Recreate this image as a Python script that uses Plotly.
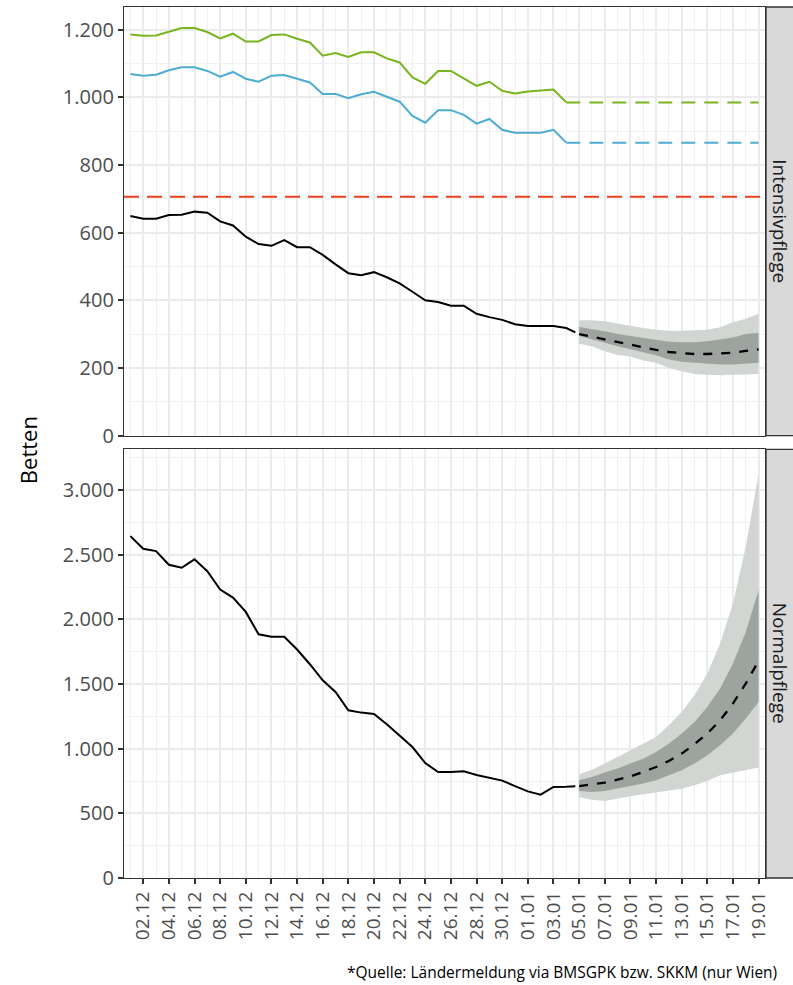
import plotly.graph_objects as go
import pandas as pd

# ---------------- data ----------------
obs_dates = list(pd.date_range("2021-12-01", "2022-01-04", freq="D").strftime("%Y-%m-%d"))
obs_last_date = "2022-01-04 17:00"          # last reported point of the observed lines
fc_dates = list(pd.date_range("2022-01-05", "2022-01-19", freq="D").strftime("%Y-%m-%d"))
cap_fc_dates = ["2022-01-04", "2022-01-19"]

# Intensivpflege (ICU)
icu_obs = [649, 641, 641, 652, 653, 662, 659, 633, 621, 588, 566, 561, 578, 557, 557, 534, 506,
           480, 474, 483, 468, 450, 425, 400, 395, 384, 384, 360, 350, 342, 329, 324, 324, 324, 318]
icu_obs_last = 305
icu_cap_total = [1186, 1182, 1183, 1194, 1205, 1205, 1193, 1174, 1188, 1165, 1165, 1184, 1186, 1173,
                 1162, 1123, 1131, 1119, 1133, 1133, 1115, 1103, 1059, 1040, 1078, 1078, 1057, 1034,
                 1046, 1019, 1011, 1017, 1020, 1023, 985]
icu_cap_covid = [1069, 1064, 1067, 1080, 1089, 1089, 1078, 1061, 1075, 1055, 1046, 1064, 1066, 1055,
                 1044, 1010, 1010, 997, 1009, 1016, 1001, 987, 945, 925, 962, 962, 948, 922, 936,
                 904, 895, 895, 895, 904, 866]
icu_threshold = 706
icu_fc_median = [300, 292, 284, 275, 268, 260, 253, 247, 243, 241, 241, 242, 245, 250, 255]
icu_fc_in_lo = [294, 284, 274, 264, 254, 246, 237, 225, 218, 215, 212, 210, 210, 212, 215]
icu_fc_in_hi = [321, 315, 308, 300, 294, 287, 281, 277, 276, 276, 279, 284, 290, 300, 304]
icu_fc_out_lo = [271, 264, 249, 238, 234, 222, 215, 200, 190, 182, 180, 178, 178, 180, 182]
icu_fc_out_hi = [341, 341, 338, 331, 323, 318, 313, 310, 310, 311, 313, 320, 335, 345, 360]

# Normalpflege (general ward)
nw_obs = [2644, 2546, 2528, 2422, 2399, 2464, 2373, 2231, 2169, 2058, 1885, 1865, 1865, 1767, 1653,
          1529, 1439, 1297, 1279, 1269, 1189, 1101, 1013, 889, 820, 820, 825, 797, 773, 753, 711,
          670, 645, 704, 706]
nw_obs_last = 709
nw_fc_median = [711, 722, 738, 761, 786, 820, 858, 905, 962, 1034, 1117, 1220, 1349, 1504, 1680]
nw_fc_in_lo = [673, 665, 673, 691, 709, 730, 755, 794, 833, 885, 949, 1026, 1117, 1233, 1361]
nw_fc_in_hi = [755, 781, 815, 846, 885, 923, 975, 1039, 1117, 1207, 1323, 1465, 1659, 1903, 2226]
nw_fc_out_lo = [626, 606, 595, 614, 632, 647, 665, 678, 691, 717, 750, 794, 812, 833, 854]
nw_fc_out_hi = [800, 838, 885, 936, 988, 1034, 1091, 1181, 1284, 1413, 1581, 1813, 2123, 2561, 3129]

x_tick_dates = list(pd.date_range("2021-12-02", "2022-01-19", freq="2D").strftime("%Y-%m-%d"))
x_tick_labels = ["02.12", "04.12", "06.12", "08.12", "10.12", "12.12", "14.12", "16.12", "18.12",
                 "20.12", "22.12", "24.12", "26.12", "28.12", "30.12", "01.01", "03.01", "05.01",
                 "07.01", "09.01", "11.01", "13.01", "15.01", "17.01", "19.01"]
x_minor_dates = list(pd.date_range("2021-12-01", "2022-01-18", freq="2D").strftime("%Y-%m-%d"))
x_range = ["2021-11-30 12:00", "2022-01-19 12:00"]

icu_ticks = [0, 200, 400, 600, 800, 1000, 1200]
icu_tick_labels = ["0", "200", "400", "600", "800", "1.000", "1.200"]
icu_minor = [100, 300, 500, 700, 900, 1100]
icu_range = [0, 1267]
nw_ticks = [0, 500, 1000, 1500, 2000, 2500, 3000]
nw_tick_labels = ["0", "500", "1.000", "1.500", "2.000", "2.500", "3.000"]
nw_minor = [250, 750, 1250, 1750, 2250, 2750, 3250]
nw_range = [0, 3314]

panel_names = ["Intensivpflege", "Normalpflege"]
y_title = "Betten"
caption = "*Quelle: Ländermeldung via BMSGPK bzw. SKKM (nur Wien)"

# ---------------- style ----------------
FONT = "Open Sans"
GREEN = "#78B41E"
BLUE = "#4EACD2"
RED = "#E8401F"
BAND_OUT = "#D1D6D3"
BAND_IN = "#9DA39F"
GRID = "#EBEBEB"
GRID_MINOR = "#F1F1F1"
AXIS = "#333333"
TICKTXT = "#4D4D4D"

fig = go.Figure()


def add_forecast(xa, ya, lo_o, hi_o, lo_i, hi_i, med):
    fig.add_trace(go.Scatter(x=fc_dates + fc_dates[::-1], y=hi_o + lo_o[::-1], fill="toself",
                             fillcolor=BAND_OUT, line=dict(width=0), mode="lines",
                             xaxis=xa, yaxis=ya, hoverinfo="skip", showlegend=False))
    fig.add_trace(go.Scatter(x=fc_dates + fc_dates[::-1], y=hi_i + lo_i[::-1], fill="toself",
                             fillcolor=BAND_IN, line=dict(width=0), mode="lines",
                             xaxis=xa, yaxis=ya, hoverinfo="skip", showlegend=False))
    fig.add_trace(go.Scatter(x=fc_dates, y=med, mode="lines",
                             line=dict(color="black", width=2.3, dash="9px,9px"),
                             xaxis=xa, yaxis=ya, showlegend=False))


# top panel
fig.add_trace(go.Scatter(x=obs_dates, y=icu_cap_total, mode="lines",
                         line=dict(color=GREEN, width=2), xaxis="x", yaxis="y", showlegend=False))
fig.add_trace(go.Scatter(x=cap_fc_dates, y=[icu_cap_total[-1]] * 2, mode="lines",
                         line=dict(color=GREEN, width=2, dash="14px,9px"),
                         xaxis="x", yaxis="y", showlegend=False))
fig.add_trace(go.Scatter(x=obs_dates, y=icu_cap_covid, mode="lines",
                         line=dict(color=BLUE, width=2), xaxis="x", yaxis="y", showlegend=False))
fig.add_trace(go.Scatter(x=cap_fc_dates, y=[icu_cap_covid[-1]] * 2, mode="lines",
                         line=dict(color=BLUE, width=2, dash="14px,9px"),
                         xaxis="x", yaxis="y", showlegend=False))
add_forecast("x", "y", icu_fc_out_lo, icu_fc_out_hi, icu_fc_in_lo, icu_fc_in_hi, icu_fc_median)
fig.add_trace(go.Scatter(x=obs_dates + [obs_last_date], y=icu_obs + [icu_obs_last], mode="lines",
                         line=dict(color="black", width=2), xaxis="x", yaxis="y", showlegend=False))

# bottom panel
add_forecast("x2", "y2", nw_fc_out_lo, nw_fc_out_hi, nw_fc_in_lo, nw_fc_in_hi, nw_fc_median)
fig.add_trace(go.Scatter(x=obs_dates + [obs_last_date], y=nw_obs + [nw_obs_last], mode="lines",
                         line=dict(color="black", width=2), xaxis="x2", yaxis="y2", showlegend=False))

# threshold line
fig.add_shape(type="line", xref="x domain", yref="y", x0=0, x1=1, y0=icu_threshold, y1=icu_threshold,
              line=dict(color=RED, width=2.2, dash="15px,8px"), layer="above")

top_dom = [0.508, 1.0]
bot_dom = [0.0, 0.492]

xcommon = dict(type="date", range=x_range, tickmode="array", tickvals=x_tick_dates,
               ticktext=x_tick_labels, showgrid=True, gridcolor=GRID, gridwidth=1.6,
               minor=dict(tickmode="array", tickvals=x_minor_dates, showgrid=True,
                          gridcolor=GRID_MINOR, gridwidth=1.0),
               showline=True, mirror=True, linecolor=AXIS, linewidth=1.3, zeroline=False)
ycommon = dict(tickmode="array", showgrid=True, gridcolor=GRID, gridwidth=1.6,
               showline=True, mirror=True, linecolor=AXIS, linewidth=1.3, zeroline=False,
               ticks="outside", ticklen=5, tickwidth=1.5, tickcolor=AXIS,
               tickfont=dict(family=FONT, size=20, color=TICKTXT))

fig.update_layout(
    width=793, height=985,
    margin=dict(l=124, r=28, t=7, b=107),
    plot_bgcolor="white", paper_bgcolor="white",
    font=dict(family=FONT),
    showlegend=False,
    xaxis=dict(**xcommon, anchor="y", showticklabels=False, ticks=""),
    xaxis2=dict(**xcommon, anchor="y2", matches="x", showticklabels=True, ticks="outside",
                ticklen=5, tickwidth=1.5, tickcolor=AXIS, tickangle=-90,
                tickfont=dict(family=FONT, size=19, color=TICKTXT)),
    yaxis=dict(**ycommon, domain=top_dom, range=icu_range, tickvals=icu_ticks,
               ticktext=icu_tick_labels,
               minor=dict(tickmode="array", tickvals=icu_minor, showgrid=True,
                          gridcolor=GRID_MINOR, gridwidth=1.0)),
    yaxis2=dict(**ycommon, domain=bot_dom, range=nw_range, tickvals=nw_ticks,
                ticktext=nw_tick_labels,
                minor=dict(tickmode="array", tickvals=nw_minor, showgrid=True,
                           gridcolor=GRID_MINOR, gridwidth=1.0)),
)

# facet strips
for dom, name in zip([top_dom, bot_dom], panel_names):
    fig.add_shape(type="rect", xref="paper", yref="paper", x0=1.0016, x1=1.07, y0=dom[0], y1=dom[1],
                  fillcolor="#D9D9D9", line=dict(color=AXIS, width=1.3), layer="above")
    fig.add_annotation(text=name, xref="paper", yref="paper", x=1.0234, y=(dom[0] + dom[1]) / 2,
                       textangle=90, showarrow=False, xanchor="center", yanchor="middle",
                       font=dict(family=FONT, size=19, color="#1A1A1A"))

fig.add_annotation(text=y_title, xref="paper", yref="paper", x=-0.150, y=0.491, textangle=-90,
                   showarrow=False, xanchor="center", yanchor="middle",
                   font=dict(family=FONT, size=22, color="black"))
fig.add_annotation(text=caption, xref="paper", yref="paper", x=1.0218, y=-0.108, showarrow=False,
                   xanchor="right", yanchor="middle", font=dict(family=FONT, size=15.5, color="black"))

fig.write_html("out.html", config={"displayModeBar": False},
               post_script="document.body.style.margin='0';document.body.style.overflow='hidden';")
